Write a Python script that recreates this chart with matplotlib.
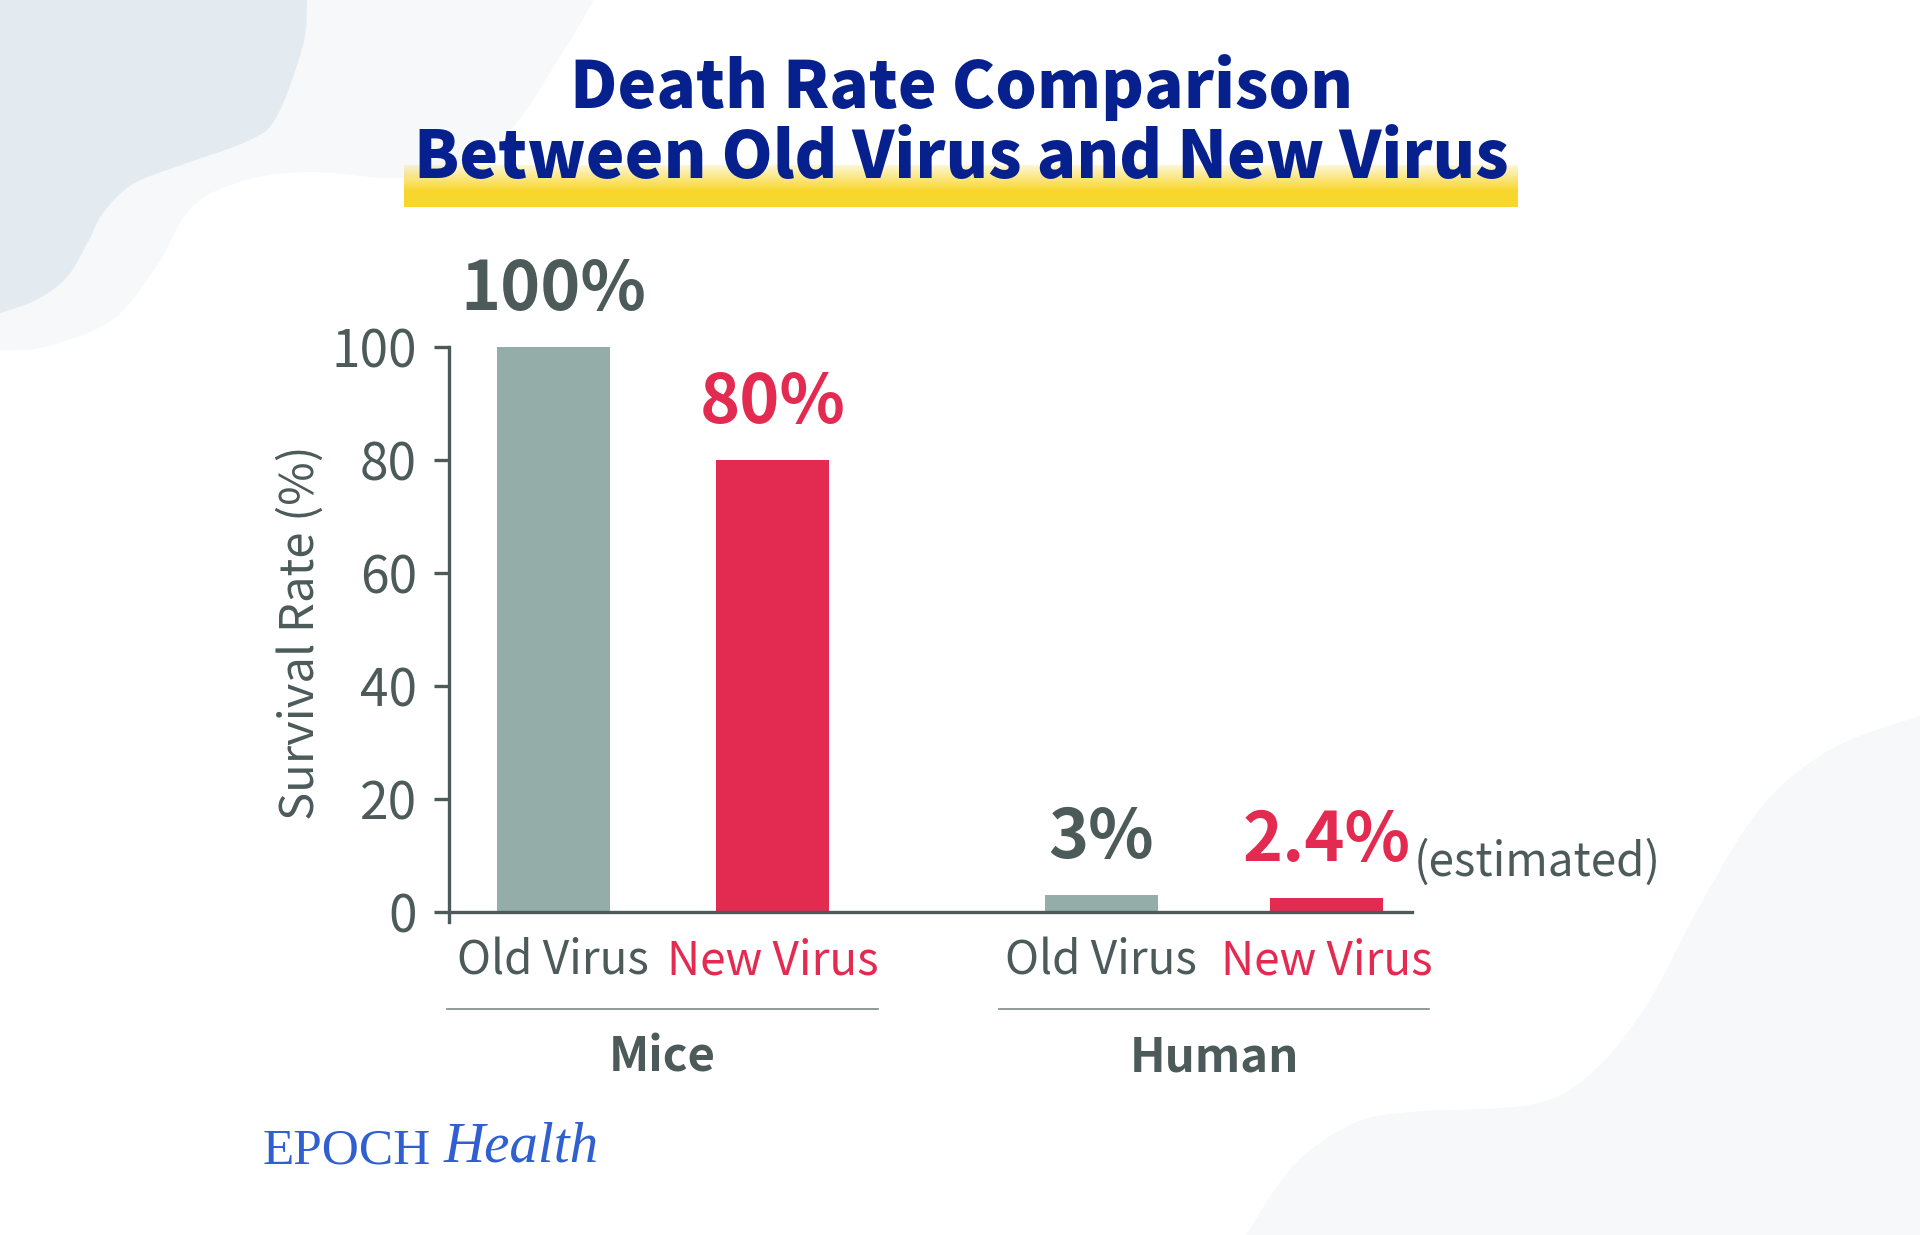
import numpy as np
import matplotlib
matplotlib.use('Agg')
import matplotlib.pyplot as plt
from matplotlib.patches import Polygon

# data
groups = ['Mice', 'Human']
categories = ['Old Virus', 'New Virus', 'Old Virus', 'New Virus']
values = [100, 80, 3, 2.4]
value_labels = ['100%', '80%', '3%', '2.4%']
y_ticks = [0, 20, 40, 60, 80, 100]

GRAY_BAR = '#95ADA9'
RED = '#E32B52'
DARK = '#4C5A5A'
NAVY = '#06218E'

plt.rcParams['font.family'] = ['Noto Sans CJK JP', 'DejaVu Sans']

fig = plt.figure(figsize=(19.2, 12.35), dpi=100)
fig.patch.set_facecolor('white')

# background layer in pixel coordinates
bg = fig.add_axes([0, 0, 1, 1], zorder=-1)
bg.set_xlim(0, 1920)
bg.set_ylim(1235, 0)
bg.axis('off')


def smooth(pts, n=12):
    # catmull-rom through the given points
    pts = np.asarray(pts, float)
    p = np.vstack([pts[0], pts, pts[-1]])
    out = []
    for i in range(1, len(p) - 2):
        p0, p1, p2, p3 = p[i - 1], p[i], p[i + 1], p[i + 2]
        for t in np.linspace(0, 1, n, endpoint=False):
            t2, t3 = t * t, t * t * t
            out.append(0.5 * ((2 * p1) + (-p0 + p2) * t + (2 * p0 - 5 * p1 + 4 * p2 - p3) * t2
                              + (-p0 + 3 * p1 - 3 * p2 + p3) * t3))
    out.append(pts[-1])
    return np.array(out)


light = smooth([(594, 0), (558, 60), (513, 127), (469, 160), (402, 178), (312, 172), (246, 180),
                (192, 207), (156, 267), (112, 320), (45, 347), (0, 350)])
bg.add_patch(Polygon(np.vstack([light, [(0, 0)]]), closed=True, fc='#F6F8F9', ec='none'))
dark = smooth([(307, 0), (303, 45), (277, 116), (250, 140), (187, 163), (133, 184), (103, 213),
               (89, 240), (67, 277), (36, 300), (0, 313)])
bg.add_patch(Polygon(np.vstack([dark, [(0, 0)]]), closed=True, fc='#E4EBF0', ec='none'))
br = smooth([(1920, 716), (1833, 748), (1763, 805), (1704, 898), (1646, 1006), (1587, 1077),
             (1528, 1105), (1411, 1112), (1352, 1124), (1293, 1166), (1246, 1235)])
bg.add_patch(Polygon(np.vstack([br, [(1920, 1235)]]), closed=True, fc='#F6F8F9', ec='none'))

# yellow highlight under the title
t = np.linspace(0, 1, 60)[:, None]
grad = np.zeros((60, 2, 4))
grad[..., 0] = 0.976
grad[..., 1] = 0.84
grad[..., 2] = 0.17
grad[..., 3] = np.clip(0.2 + t * 1.3, 0, 1)
bg.imshow(grad, extent=[404, 1518, 207, 165], aspect='auto', interpolation='bilinear', zorder=1)

bg.text(961, 108, 'Death Rate Comparison', ha='center', va='baseline', fontsize=47,
        fontweight='heavy', color=NAVY, zorder=3)
bg.text(961, 178, 'Between Old Virus and New Virus', ha='center', va='baseline', fontsize=47,
        fontweight='heavy', color=NAVY, zorder=3)

logo = bg.text(263, 1163, 'EPOCH', ha='left', va='baseline', fontsize=37,
               family='Liberation Serif', color='#2F5FD0')
bg.annotate('Health', xy=(1, 0), xycoords=logo, xytext=(12, 0), textcoords='offset pixels',
            ha='left', va='bottom', fontsize=41, family='Liberation Serif', style='italic',
            color='#2F5FD0')

# main chart
ax = fig.add_axes([449 / 1920, (1235 - 922.2) / 1235, 962.5 / 1920, (922.2 - 347) / 1235])
ax.set_facecolor('none')
x = np.array([g * 2.5 + i * (1 + 0.03 * g) for g in range(len(groups)) for i in range(2)], float)
colors = [GRAY_BAR, RED] * len(groups)
ax.bar(x, values, width=0.515, color=colors, zorder=1)
ax.set_xlim(-0.475, 3.916)
ax.set_ylim(-1.8, 100)

for s in ['top', 'right']:
    ax.spines[s].set_visible(False)
ax.spines['bottom'].set_position(('data', 0))
for s in ['left', 'bottom']:
    ax.spines[s].set_color(DARK)
    ax.spines[s].set_linewidth(2.4)

ax.set_yticks(y_ticks)
ax.tick_params(axis='y', direction='out', length=11, width=2.4, color=DARK,
               labelcolor=DARK, labelsize=37, pad=12)
ax.set_xticks(x, categories)
ax.tick_params(axis='x', length=0, labelsize=33, pad=18)
for lab, c in zip(ax.get_xticklabels(), [DARK, RED] * len(groups)):
    lab.set_color(c)

ax.set_ylabel('Survival Rate (%)', fontsize=34, color=DARK, va='center')
ax.yaxis.set_label_coords(-0.154, 0.503)

for xi, v, lab, c in zip(x, values, value_labels, [DARK, RED] * len(groups)):
    txt = ax.annotate(lab, xy=(xi, v), xytext=(0, 27), textcoords='offset points',
                      ha='center', va='baseline', fontsize=49, fontweight='bold', color=c)
    if lab == '2.4%':
        ax.annotate('(estimated)', xy=(1, 0), xycoords=txt, xytext=(3, 0),
                    textcoords='offset pixels', ha='left', va='baseline', fontsize=33, color=DARK)

for g, name in enumerate(groups):
    mid = x[2 * g:2 * g + 2].mean()
    ax.plot([mid - 0.982, mid + 0.982], [-17.2, -17.2], color='#7E8787', lw=1.2, clip_on=False)
    ax.text(mid, -25.7, name, ha='center', va='center', fontsize=34, fontweight='bold',
            color=DARK)

fig.savefig('out.png', dpi=100)
